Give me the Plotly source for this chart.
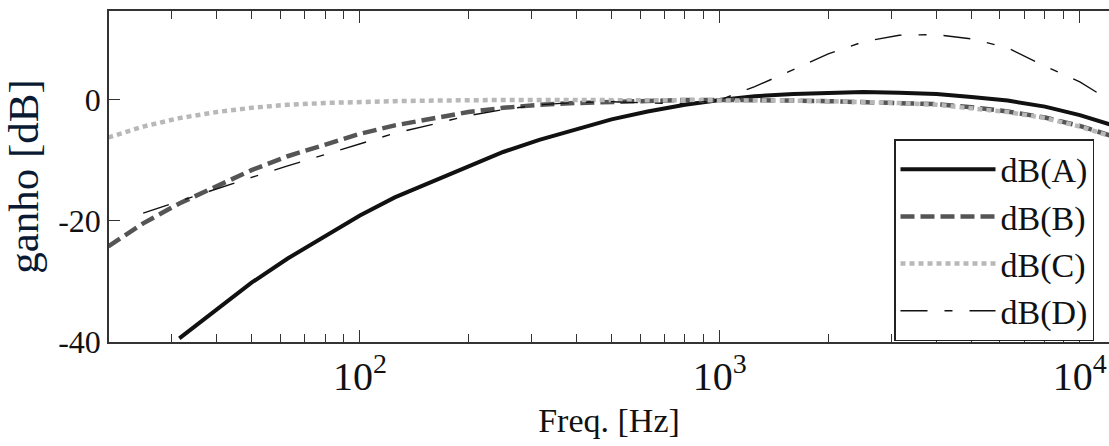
import plotly.graph_objects as go

# third-octave centre frequencies [Hz]
freq = [20, 25, 31.5, 40, 50, 63, 80, 100, 125, 160, 200, 250, 315, 400, 500,
        630, 800, 1000, 1250, 1600, 2000, 2500, 3150, 4000, 5000, 6300, 8000,
        10000, 12500]

# gains [dB]
gain_a = [None, None, -39.4, -34.6, -30.2, -26.2, -22.5, -19.1, -16.1, -13.4,
          -10.9, -8.6, -6.6, -4.8, -3.2, -1.9, -0.8, 0, 0.6, 1.0, 1.2, 1.3,
          1.2, 1.0, 0.5, -0.1, -1.1, -2.5, -4.3]
gain_b = [-24.2, -20.4, -17.1, -14.2, -11.6, -9.3, -7.4, -5.6, -4.2, -3.0,
          -2.0, -1.3, -0.8, -0.5, -0.3, -0.1, 0, 0, 0, -0.1, -0.2, -0.4, -0.5,
          -0.7, -1.2, -1.9, -2.9, -4.3, -6.1]
gain_c = [-6.2, -4.4, -3.0, -2.0, -1.3, -0.8, -0.5, -0.3, -0.2, -0.1, 0, 0,
          0, 0, 0, 0, 0, 0, 0, -0.1, -0.2, -0.3, -0.5, -0.8, -1.3, -2.0, -3.0,
          -4.4, -6.2]
gain_d = [None, -18.7, -16.7, -14.7, -12.8, -10.9, -9.0, -7.2, -5.5, -4.0,
          -2.6, -1.6, -0.8, -0.4, -0.3, -0.5, -0.6, 0, 2.2, 5.0, 7.6, 9.6,
          10.7, 10.8, 10.1, 8.6, 5.6, 3.0, -0.6]

names = ["dB(A)", "dB(B)", "dB(C)", "dB(D)"]

y_ticks = [-40, -20, 0]
y_ticktext = ["-40", "-20", "0"]

serif = "Liberation Serif"
x_range = [1.303, 4.081]

fig = go.Figure()
fig.add_trace(go.Scatter(x=freq, y=gain_a, name=names[0], mode="lines",
                         line=dict(color="#111111", width=4)))
fig.add_trace(go.Scatter(x=freq, y=gain_b, name=names[1], mode="lines",
                         line=dict(color="#555555", width=4.5, dash="14px,6px")))
fig.add_trace(go.Scatter(x=freq, y=gain_c, name=names[2], mode="lines",
                         line=dict(color="#b8b8b8", width=4.5, dash="5px,4px")))
fig.add_trace(go.Scatter(x=freq, y=gain_d, name=names[3], mode="lines",
                         line=dict(color="#111111", width=1.4,
                                   dash="27px,17px,8px,17px")))
# invisible copy on the top axis so that its ticks get drawn
fig.add_trace(go.Scatter(x=freq, y=gain_c, xaxis="x2", mode="lines",
                         line=dict(width=0, color="rgba(0,0,0,0)"),
                         showlegend=False, hoverinfo="skip"))

tick_style = dict(ticks="inside", ticklen=12, tickwidth=1.3, tickcolor="#333",
                  tickmode="linear", tick0=0, dtick=1)
minor_style = dict(ticks="inside", ticklen=8, tickwidth=1.3, tickcolor="#333",
                   dtick="D1", showgrid=False)

fig.update_layout(
    xaxis=dict(
        type="log", range=x_range, automargin=False,
        exponentformat="power", **tick_style, minor=minor_style,
        showline=True, linecolor="#333", linewidth=1.5,
        showgrid=False, zeroline=False,
        tickfont=dict(family=serif, size=32, color="#111"),
        title=dict(text="Freq. [Hz]",
                   font=dict(family=serif, size=34, color="#111"),
                   standoff=10),
    ),
    xaxis2=dict(
        type="log", range=x_range, automargin=False,
        overlaying="x", side="top", anchor="y",
        **tick_style, minor=minor_style, showticklabels=False,
        showline=True, linecolor="#333", linewidth=1.5,
        showgrid=False, zeroline=False,
    ),
    yaxis=dict(
        range=[-40, 14.7], tickvals=y_ticks, ticktext=y_ticktext,
        automargin=False,
        ticks="inside", ticklen=11, tickwidth=1.3, tickcolor="#333",
        showline=True, linecolor="#333", linewidth=1.5, mirror=False,
        showgrid=False, zeroline=False,
        tickfont=dict(family=serif, size=32, color="#111"),
        title=dict(text="ganho [dB]",
                   font=dict(family=serif, size=43, color="#0a1a33"),
                   standoff=16),
    ),
    width=1109, height=446,
    margin=dict(l=109, r=0, t=11, b=104),
    paper_bgcolor="white", plot_bgcolor="white",
    showlegend=True,
    legend=dict(
        x=0.985, xanchor="right", y=0.613, yanchor="top",
        bgcolor="white", bordercolor="#222", borderwidth=1.5,
        font=dict(family=serif, size=34, color="#111"),
        itemwidth=95, tracegroupgap=0,
    ),
)

# drop the default page margin so the figure sits at the window corner
fig.write_html("out.html", post_script="document.body.style.margin='0';",
               config={"displayModeBar": False})
